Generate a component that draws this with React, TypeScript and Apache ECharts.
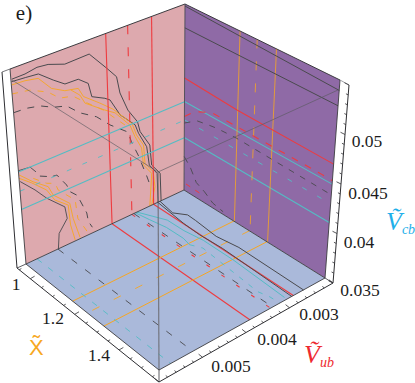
import React, { useEffect, useRef } from "react";
import * as echarts from "echarts";

// ---------- axis ranges (Vub and Vcb in units of 10^-3) ----------
const XT_RANGE = [0.94, 1.58];
const VUB_RANGE = [2, 6];
const VCB_RANGE = [35, 55];

// ---------- tick labels ----------
const xtTickLabels = ["1", "1.2", "1.4"];
const vubTickLabels = ["0.005", "0.004", "0.003"];
const vcbTickLabels = ["0.035", "0.04", "0.045", "0.05"];

// ---------- constraint levels ----------
const vubRedSolid = [3.9, 2.82];
const vubRedDashed = [3.39];
const xtOrangeSolid = [1.183, 1.334];
const xtOrangeDashed = [1.255];
const vcbCyanSolid = [44.95, 41.0];
const vcbCyanDashed = [42.95];
const vubBlackDashedFloor = [3.34, 5.24];
const vubCyanDashedFloor = [5.74];

// ---------- contours on the (Vub, Vcb) wall ----------
const wallBlackA = [[5.98,54.02],[5.7,54.04],[5.44,54.24],[5.2,54.12],[4.84,53.56],[4.29,53.64],[3.9,51.62],[3.68,50.42],[3.61,48.66],[3.43,46.58],[3.2,44.94],[3.14,43.78],[2.9,41.88],[2.86,39.58],[2.64,38.22],[2.62,35]];
const wallBlackB = [[5.99,53.8],[5.7,53.7],[5.42,53.58],[5.11,52.48],[4.86,51.68],[4.56,51.64],[4.34,50.86],[4.27,49.42],[3.97,48.74],[3.85,48.36],[3.62,46.42],[3.26,44.72],[3.18,43.68],[2.98,41.84],[2.92,39.7],[2.72,38.36],[2.7,35]];
const wallOrangeA = [[5.99,53.5],[5.71,53.42],[5.43,53.18],[5.16,51.76],[4.87,51.04],[4.57,50.76],[4.46,49.76],[4.09,48.46],[3.79,47.32],[3.34,45.04],[3.23,43.58],[3.06,42.18],[3.03,40.1],[2.82,38.74],[2.78,36.96],[2.87,35]];
const wallOrangeB = [[4.74,50.9],[4.54,50.04],[4.43,49.04],[3.98,47.56],[3.74,46.84],[3.39,44.94],[3.27,43.48],[3.11,41.94],[3.07,40],[2.86,38.64],[2.92,35]];
const wallOrangeDashed = [[6,52.66],[5.62,52.38],[5.24,51.54],[4.99,50.52],[4.7,50.22],[4.43,49.16],[4.02,47.64],[3.68,45.98],[3.51,45.16]];
const wallBlackDashed = [[5.99,50.86],[5.72,50.8],[5.43,50.52],[5.14,49.88],[4.85,49.5],[4.56,48.3],[4.18,47.22],[3.87,45.82],[3.44,44.28],[3.36,43.08],[3.2,41.34],[2.99,38.6],[2.89,37.14]];
const wallLowBlackA = [[6,45.08],[5.74,44.94],[5.62,44.22]];
const wallLowBlackB = [[5.98,43.92],[5.67,42.42],[5.42,41.02],[5.02,39.26],[4.98,37.9],[5.19,36.66],[5.23,35]];
const wallLowBlackDashed = [[5.54,43.62],[5.28,43.04],[5.16,42.98],[4.95,41.5],[4.88,40.64],[4.73,39.96],[4.66,39.26],[4.51,37.52],[4.48,36.48],[4.39,35.64]];
const wallLowOrangeA = [[5.99,44.62],[5.7,43.34],[5.37,42.16],[5.27,41.06],[4.9,39.4],[4.84,37.6],[4.7,35.16]];
const wallLowOrangeB = [[6,44.3],[5.73,43.28],[5.41,41.88],[5.24,40.46],[4.94,39.3],[4.91,37.02],[4.82,35.12]];
const wallLowOrangeDashed = [[5.69,43.68],[5.4,42.58],[5.21,42.2],[5.15,41.36],[4.77,39.5],[4.73,37.38],[4.5,35.24]];

// ---------- contours on the (x, Vcb) wall ----------
const sideRedSolid = [[0.94,47.44],[1.18,47.08],[1.58,46.96]];
const sideRedDashed = [[0.94,43.32],[0.98,44.26],[1.01,44.72],[1.07,45.38],[1.13,45.38],[1.54,45.34],[1.58,45.3]];
const sideBlackDashed = [[0.94,42.6],[1.0,43.62],[1.05,43.86],[1.09,44.02],[1.18,44.16],[1.55,43.88],[1.58,43.86]];
const sideLowBlackDashed = [[0.94,38.86],[0.97,38.06],[1.0,36.74],[1.04,36.26],[1.08,35.56],[1.13,35.3]];
const sideLowRedDashed = [[0.95,35.84],[1.02,35.76]];
const sideBlackTopA = [[0.94,54.8],[1.58,54.04]];
const sideBlackTopB = [[0.94,52.62],[1.58,52.6]];

// ---------- contours on the (x, Vub) floor ----------
const floorBlackA = [[0.94,2.65],[1.02,2.73],[1.06,2.55],[1.1,2.56],[1.21,2.62],[1.3,2.54],[1.58,2.56]];
const floorBlackB = [[0.94,2.71],[1.09,2.81],[1.17,2.83],[1.27,2.8],[1.58,2.86]];
const floorCyanA = [[0.94,3.26],[1.04,2.98],[1.12,2.97],[1.2,2.9],[1.34,2.9],[1.57,2.98]];
const floorCyanB = [[0.94,3.3],[1.0,3.24],[1.07,3.16],[1.15,3.15],[1.19,3.2]];
const floorCyanDashed = [[1.19,3.2],[1.23,3.08],[1.5,3.23],[1.54,3.17],[1.58,3.16]];

// ---------- layout of the box (pixels) ----------
type P = [number, number];
const BACK: P = [184, 190], LEFT: P = [26, 264], RIGHT: P = [325, 278], FRONT: P = [159, 370];
const BACK_TOP: P = [185, 4], LEFT_TOP: P = [10, 69], RIGHT_TOP: P = [340, 80], FRONT_TOP: P = [158, 172];
const O_LEFT_TOP: P = [2, 72], O_LEFT: P = [17, 268], O_FRONT: P = [159, 382], O_RIGHT: P = [333, 283], O_RIGHT_TOP: P = [349, 85];

const RED = "#ee3b3f", ORANGE = "#f6a623", CYAN = "#54bcc4", BLACK = "#4a4a4e";
const SERIF = "Liberation Serif";

function quad(p0: P, p1: P, p2: P, p3: P) {
  const dx1 = p1[0] - p2[0], dx2 = p3[0] - p2[0], sx = p0[0] - p1[0] + p2[0] - p3[0];
  const dy1 = p1[1] - p2[1], dy2 = p3[1] - p2[1], sy = p0[1] - p1[1] + p2[1] - p3[1];
  const det = dx1 * dy2 - dx2 * dy1;
  const g = (sx * dy2 - dx2 * sy) / det, h = (dx1 * sy - sx * dy1) / det;
  const a = p1[0] - p0[0] + g * p1[0], b = p3[0] - p0[0] + h * p3[0];
  const d = p1[1] - p0[1] + g * p1[1], e = p3[1] - p0[1] + h * p3[1];
  return (s: number, t: number): P => {
    const D = 1 + g * s + h * t;
    return [(a * s + b * t + p0[0]) / D, (d * s + e * t + p0[1]) / D];
  };
}
const frac = (val: number, r: number[]) => (val - r[0]) / (r[1] - r[0]);
const wallQ = quad(BACK, LEFT, LEFT_TOP, BACK_TOP);
const sideQ = quad(BACK, RIGHT, RIGHT_TOP, BACK_TOP);
const floorQ = quad(BACK, RIGHT, FRONT, LEFT);
const onWall = (pts: number[][]) => pts.map(([vub, vcb]) => wallQ(frac(vub, VUB_RANGE), frac(vcb, VCB_RANGE)));
const onSide = (pts: number[][]) => pts.map(([xt, vcb]) => sideQ(frac(xt, XT_RANGE), frac(vcb, VCB_RANGE)));
const onFloor = (pts: number[][]) => pts.map(([xt, vub]) => floorQ(frac(xt, XT_RANGE), frac(vub, VUB_RANGE)));

const line = (data: any[], color: string, width = 0.9, dash?: number[], opacity = 1) => ({
  type: "line", data, symbol: "none", silent: true, clip: false, connectNulls: false, z: 3,
  lineStyle: { color, width, opacity, type: dash || "solid" },
});

function buildSeries() {
  const s: any[] = [];
  const D = [6, 7], DV = [9, 13], DC = [5, 12];
  // wall contours
  s.push(line(onWall(wallBlackA), BLACK, 1));
  s.push(line(onWall(wallBlackB), BLACK, 1));
  s.push(line(onWall(wallOrangeA), ORANGE));
  s.push(line(onWall(wallOrangeB), ORANGE));
  s.push(line(onWall(wallOrangeDashed), ORANGE, 0.9, D));
  s.push(line(onWall(wallBlackDashed), BLACK, 1, [7, 7]));
  s.push(line(onWall(wallLowBlackA), BLACK));
  s.push(line(onWall(wallLowBlackB), BLACK));
  s.push(line(onWall(wallLowBlackDashed), BLACK, 1, [7, 6]));
  s.push(line(onWall(wallLowOrangeA), ORANGE));
  s.push(line(onWall(wallLowOrangeB), ORANGE));
  s.push(line(onWall(wallLowOrangeDashed), ORANGE, 0.9, D));
  // levels
  vubRedSolid.forEach((v) => {
    s.push(line(onWall([[v, VCB_RANGE[0]], [v, VCB_RANGE[1]]]), RED, 1.1));
    s.push(line(onFloor([[XT_RANGE[0], v], [XT_RANGE[1], v]]), RED, 1.1));
  });
  vubRedDashed.forEach((v) => {
    s.push(line(onWall([[v, VCB_RANGE[1]], [v, VCB_RANGE[0]]]), RED, 1.1, DV));
    s.push(line(onFloor([[XT_RANGE[0], v], [XT_RANGE[1], v]]), RED, 1.1, [4, 14]));
  });
  vcbCyanSolid.forEach((v) => {
    s.push(line(onWall([[VUB_RANGE[0], v], [VUB_RANGE[1], v]]), CYAN, 1.1));
    s.push(line(onSide([[XT_RANGE[0], v], [XT_RANGE[1], v]]), CYAN, 1.1));
  });
  vcbCyanDashed.forEach((v) => {
    s.push(line(onWall([[VUB_RANGE[1], v], [VUB_RANGE[0], v]]), CYAN, 0.9, DC));
    s.push(line(onSide([[XT_RANGE[0], v], [XT_RANGE[1], v]]), CYAN, 0.9, DC));
  });
  xtOrangeSolid.forEach((x) => {
    s.push(line(onSide([[x, VCB_RANGE[0]], [x, VCB_RANGE[1]]]), ORANGE, 1, undefined, 0.8));
    s.push(line(onFloor([[x, VUB_RANGE[0]], [x, VUB_RANGE[1]]]), ORANGE, 1));
  });
  xtOrangeDashed.forEach((x) => {
    s.push(line(onSide([[x, VCB_RANGE[1]], [x, VCB_RANGE[0]]]), ORANGE, 1, DV, 0.8));
    s.push(line(onFloor([[x, VUB_RANGE[0]], [x, VUB_RANGE[1]]]), ORANGE, 0.9, [8, 16]));
  });
  vubBlackDashedFloor.forEach((v) => s.push(line(onFloor([[XT_RANGE[0], v], [XT_RANGE[1], v]]), BLACK, 0.9, [7, 10])));
  vubCyanDashedFloor.forEach((v) => s.push(line(onFloor([[XT_RANGE[0], v], [XT_RANGE[1], v]]), CYAN, 0.9, [6, 8])));
  // side wall
  s.push(line(onSide(sideRedSolid), RED, 1.1));
  s.push(line(onSide(sideRedDashed), RED, 1.1, [7, 8]));
  s.push(line(onSide(sideBlackDashed), BLACK, 0.9, [6, 7]));
  s.push(line(onSide(sideLowBlackDashed), BLACK, 0.9, [7, 6]));
  s.push(line(onSide(sideLowRedDashed), RED, 1, [5, 6]));
  s.push(line(onSide(sideBlackTopA), BLACK, 1));
  s.push(line(onSide(sideBlackTopB), BLACK, 1));
  // floor contours
  s.push(line(onFloor(floorBlackA), BLACK, 1));
  s.push(line(onFloor(floorBlackB), BLACK, 1));
  s.push(line(onFloor(floorCyanA), CYAN, 1));
  s.push(line(onFloor(floorCyanB), CYAN, 1));
  s.push(line(onFloor(floorCyanDashed), CYAN, 0.9, [5, 7]));

  // box: translucent front edges
  s.push(line([[12, 80], FRONT_TOP, [338, 90]], "#5a5a60", 0.9, undefined, 0.7));
  s.push(line([FRONT_TOP, FRONT], "#6a6a70", 1.2, undefined, 0.85));
  // box: dark edges
  s.push(line([LEFT_TOP, BACK_TOP, RIGHT_TOP], "#3c3c40", 1));
  s.push(line([LEFT_TOP, LEFT, BACK, RIGHT, RIGHT_TOP], "#3c3c40", 0.9));
  s.push(line([BACK_TOP, BACK], "#4a4a50", 0.9));
  s.push(line([LEFT, FRONT, RIGHT], "#3c3c40", 0.9));
  s.push(line([O_LEFT_TOP, O_LEFT, O_FRONT, O_RIGHT, O_RIGHT_TOP], "#2e2e32", 1));
  s.push(line([O_LEFT_TOP, LEFT_TOP], "#55555a", 0.8));
  s.push(line([O_RIGHT_TOP, RIGHT_TOP], "#8a8a90", 0.8));
  s.push(line([O_LEFT, LEFT], "#33333a", 0.8));
  s.push(line([O_FRONT, FRONT], "#33333a", 0.8));
  s.push(line([O_RIGHT, RIGHT], "#33333a", 0.8));

  // ticks
  const ticks: any[] = [];
  const seg = (p: P, dir: P, len: number) => {
    ticks.push(p, [p[0] + dir[0] * len, p[1] + dir[1] * len], [NaN, NaN]);
  };
  const along = (a: P, b: P, t: number): P => [a[0] + (b[0] - a[0]) * t, a[1] + (b[1] - a[1]) * t];
  for (let i = 0; i <= 12; i++) {
    const val = 0.95 + i * 0.05;
    const major = i % 4 === 1;
    seg(along(O_LEFT, O_FRONT, frac(val, XT_RANGE)), [0.86, -0.5], major ? 5 : 2.5);
  }
  for (let i = 0; i <= 20; i++) {
    const val = 2 + i * 0.2;
    seg(along(O_RIGHT, O_FRONT, frac(val, VUB_RANGE)), [-0.78, -0.62], i % 5 === 0 ? 5 : 2.5);
  }
  for (let i = 0; i <= 20; i++) {
    const val = 35 + i;
    seg(along(O_RIGHT, O_RIGHT_TOP, frac(val, VCB_RANGE)), [-0.9, -0.45], i % 5 === 0 ? 5 : 2.5);
  }
  s.push(line(ticks, "#2e2e32", 0.8));
  return s;
}

const label = (text: string, x: number, y: number) => ({
  type: "text", x, y,
  style: { text, fontFamily: SERIF, fontSize: 17.5, fill: "#1c1c1c", textAlign: "center", textVerticalAlign: "middle" },
});
const axisName = (sym: string, sub: string, x: number, y: number, fill: string) => ({
  type: "text", x, y,
  style: {
    text: `{v|${sym}\u0303}{s|${sub}}`,
    textAlign: "left", textVerticalAlign: "top", fill,
    rich: {
      v: { fontFamily: SERIF, fontSize: 26, fontStyle: "italic", lineHeight: 30, fill },
      s: { fontFamily: SERIF, fontSize: 14, fontStyle: "italic", lineHeight: 30, fill, verticalAlign: "bottom" },
    },
  },
});
const face = (points: P[], fill: string) => ({ type: "polygon", shape: { points }, style: { fill, stroke: "none" } });

function buildGraphic() {
  const xtPos: P[] = [[16, 284], [53, 318], [99, 355]];
  const vubPos: P[] = [[231, 366], [277, 339], [319, 314]];
  const vcbPos: P[] = [[360, 290], [359, 242], [368, 193], [367, 141]];
  return [
    face([BACK, LEFT, LEFT_TOP, BACK_TOP], "#dda9ae"),
    face([BACK, RIGHT, RIGHT_TOP, BACK_TOP], "#8f6aa6"),
    face([BACK, RIGHT, FRONT, LEFT], "#aab9da"),
    { type: "text", x: 24, y: 13, style: { text: "e)", fontFamily: SERIF, fontSize: 21, fill: "#1c1c1c", textAlign: "center", textVerticalAlign: "middle" } },
    ...xtTickLabels.map((t, i) => label(t, xtPos[i][0], xtPos[i][1])),
    ...vubTickLabels.map((t, i) => label(t, vubPos[i][0], vubPos[i][1])),
    ...vcbTickLabels.map((t, i) => label(t, vcbPos[i][0], vcbPos[i][1])),
    axisName("V", "ub", 304, 339, "#ee2a30"),
    axisName("V", "cb", 386, 206, "#1fb0ea"),
    {
      type: "text", x: 29, y: 336,
      style: {
        text: "X\u0303", textAlign: "left", textVerticalAlign: "top",
        fontFamily: "Liberation Sans", fontSize: 22, fill: "#f7a81f",
      },
    },
  ];
}

export default function App() {
  const ref = useRef<HTMLDivElement>(null);
  useEffect(() => {
    document.body.style.margin = "0";
    const chart = echarts.init(ref.current!, undefined, { renderer: "svg" });
    chart.setOption({
      animation: false,
      backgroundColor: "#ffffff",
      grid: { left: 0, right: 0, top: 0, bottom: 0 },
      xAxis: { type: "value", min: 0, max: 415, show: false },
      yAxis: { type: "value", min: 0, max: 383, inverse: true, show: false },
      graphic: buildGraphic(),
      series: buildSeries(),
    });
    return () => chart.dispose();
  }, []);
  return <div ref={ref} style={{ width: 415, height: 383 }} />;
}
